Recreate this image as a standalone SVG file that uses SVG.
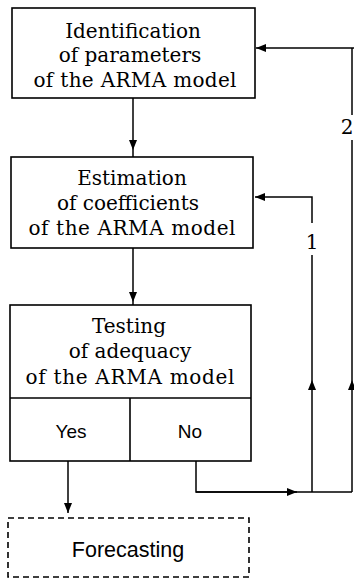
<svg xmlns="http://www.w3.org/2000/svg" width="354" height="582" viewBox="0 0 354 582">
<style>
.box{fill:none;stroke:#000;stroke-width:1.6}
.dash{fill:none;stroke:#000;stroke-width:1.6;stroke-dasharray:6 4}
.ser{font-family:"DejaVu Serif","Liberation Serif",serif;font-size:20px;fill:#000;text-anchor:middle}
.san{font-family:"Liberation Sans",Arial,sans-serif;fill:#000;text-anchor:middle}
.con{fill:none;stroke:#000;stroke-width:1.5}
</style>
<defs>
<marker id="ah" viewBox="0 0 10 8" refX="10" refY="4" markerWidth="10" markerHeight="8" markerUnits="userSpaceOnUse" orient="auto">
<path d="M0,0 L10,4 L0,8 z" fill="#000"/>
</marker>
</defs>
<rect width="354" height="582" fill="#fff"/>
<g id="node-identification">
<rect class="box" x="12" y="8" width="243" height="90"/>
<text class="ser" x="133" y="38">Identification</text>
<text class="ser" x="130" y="62">of parameters</text>
<text class="ser" x="135" y="87" textLength="203" lengthAdjust="spacing">of the ARMA model</text>
</g>
<g id="node-estimation">
<rect class="box" x="11" y="157" width="242" height="91"/>
<text class="ser" x="132" y="185">Estimation</text>
<text class="ser" x="128" y="210">of coefficients</text>
<text class="ser" x="132" y="235" textLength="207" lengthAdjust="spacing">of the ARMA model</text>
</g>
<g id="node-testing">
<rect class="box" x="10" y="305" width="241" height="156"/>
<line class="box" x1="10" y1="398" x2="251" y2="398"/>
<line class="box" x1="130" y1="398" x2="130" y2="461"/>
<text class="ser" x="129" y="333">Testing</text>
<text class="ser" x="130" y="358">of adequacy</text>
<text class="ser" x="130" y="384" textLength="209" lengthAdjust="spacing">of the ARMA model</text>
<text class="san" x="71" y="438" font-size="19">Yes</text>
<text class="san" x="190" y="438" font-size="19">No</text>
</g>
<g id="node-forecasting">
<rect class="dash" x="8" y="518" width="241" height="59"/>
<text class="san" x="128" y="557" font-size="21.5">Forecasting</text>
</g>
<g id="connectors">
<path class="con" d="M133,98 L133,150 L133,157" marker-mid="url(#ah)"/>
<path class="con" d="M133,248 L133,302 L133,305" marker-mid="url(#ah)"/>
<path class="con" d="M68,461 L68,513" marker-end="url(#ah)"/>
<path class="con" d="M196,461 L196,492 L297,492 L352,492"/>
<path class="con" d="M196,492 L297,492" marker-end="url(#ah)"/>
<path class="con" d="M312,492 L312,380" marker-end="url(#ah)"/>
<path class="con" d="M312,380 L312,255"/>
<path class="con" d="M312,223 L312,197 L255,197" marker-end="url(#ah)"/>
<path class="con" d="M352,492 L352,380" marker-end="url(#ah)"/>
<path class="con" d="M352,380 L352,140"/>
<path class="con" d="M352,115 L352,48"/>
<path class="con" d="M354,48 L256,48" marker-end="url(#ah)"/>
<text class="ser" x="312" y="249" font-size="21">1</text>
<text class="ser" x="347" y="134" font-size="21">2</text>
</g>
</svg>
